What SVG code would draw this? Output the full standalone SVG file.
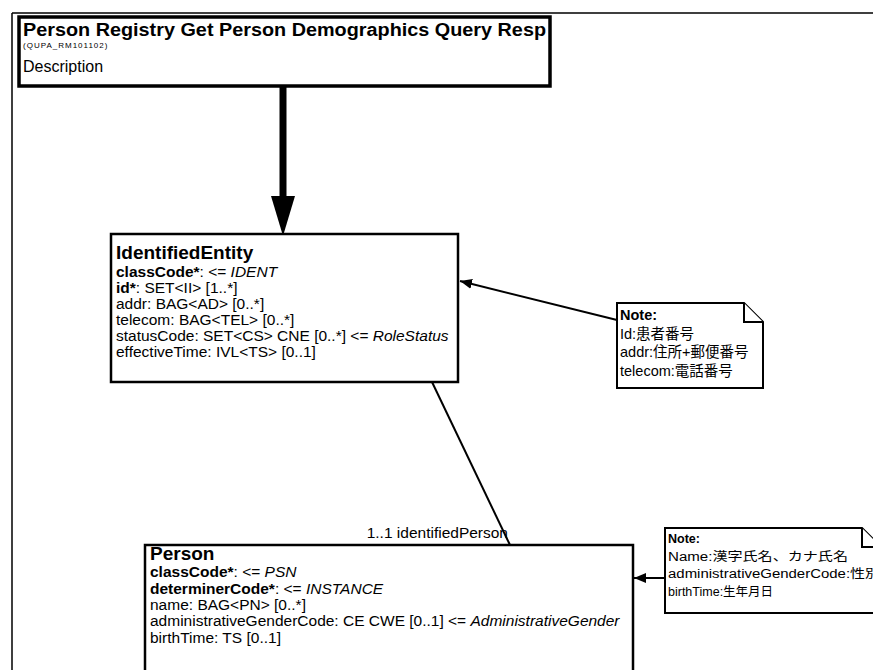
<svg xmlns="http://www.w3.org/2000/svg" width="873" height="670" viewBox="0 0 873 670">
<defs>
<style>
text{font-family:"Liberation Sans",Arial,"Noto Sans CJK JP",sans-serif;fill:#000}
.box{fill:#fff;stroke:#000;stroke-width:2.5}
.note{fill:#fff;stroke:#000;stroke-width:2}
.t{font-size:15.5px}
.b{font-weight:bold}
.i{font-style:italic}
.h{font-size:19px;font-weight:bold}
.n{font-size:14.5px}
.n2{font-size:12.5px}
.conn{stroke:#000;stroke-width:2;fill:none}
</style>
<marker id="ah" viewBox="0 0 12 10" refX="12" refY="5" markerWidth="12" markerHeight="10" markerUnits="userSpaceOnUse" orient="auto">
<path d="M0,0 L12,5 L0,10 Z" fill="#000"/>
</marker>
</defs>
<rect width="873" height="670" fill="#fff"/>
<g id="frame">
<path d="M12,13 H873 M12,13 V670" stroke="#000" stroke-width="1.5" fill="none"/>
</g>
<g id="connectors">
<line x1="283" y1="86" x2="283" y2="200" stroke="#000" stroke-width="7"/>
<polygon points="271,196 295,196 283,236" fill="#000"/>
<line class="conn" x1="617" y1="320" x2="460" y2="281" marker-end="url(#ah)"/>
<line class="conn" x1="432" y1="382" x2="510" y2="545"/>
<text class="t" x="508" y="538" text-anchor="end">1..1 identifiedPerson</text>
<line class="conn" x1="665" y1="578" x2="634" y2="578" marker-end="url(#ah)"/>
</g>
<g id="title">
<rect x="19" y="17" width="531" height="69" fill="#fff" stroke="#000" stroke-width="3.5"/>
<text x="23" y="36" font-size="18" font-weight="bold" textLength="523" lengthAdjust="spacingAndGlyphs">Person Registry Get Person Demographics Query Resp</text>
<text x="23" y="48" font-size="8" letter-spacing="1">(QUPA_RM101102)</text>
<text x="23" y="72" font-size="16">Description</text>
</g>
<g id="IdentifiedEntity">
<rect class="box" x="111" y="234" width="347" height="148"/>
<text class="h" x="116" y="259">IdentifiedEntity</text>
<text class="t" x="116" y="277"><tspan class="b">classCode*</tspan>: &lt;= <tspan class="i">IDENT</tspan></text>
<text class="t" x="116" y="293"><tspan class="b">id*</tspan>: SET&lt;II&gt; [1..*]</text>
<text class="t" x="116" y="309">addr: BAG&lt;AD&gt; [0..*]</text>
<text class="t" x="116" y="325">telecom: BAG&lt;TEL&gt; [0..*]</text>
<text class="t" x="116" y="341">statusCode: SET&lt;CS&gt; CNE [0..*] &lt;= <tspan class="i">RoleStatus</tspan></text>
<text class="t" x="116" y="357">effectiveTime: IVL&lt;TS&gt; [0..1]</text>
</g>
<g id="note1">
<path class="note" d="M617,303 H744 L763,322 V388 H617 Z"/>
<path class="note" d="M744,303 V322 H763" fill="none"/>
<text class="n b" x="620" y="320">Note:</text>
<text class="n" x="620" y="339">Id:患者番号</text>
<text class="n" x="620" y="357">addr:住所+郵便番号</text>
<text class="n" x="620" y="376">telecom:電話番号</text>
</g>
<g id="Person">
<rect class="box" x="145" y="545" width="488" height="140"/>
<text class="h" x="150" y="560">Person</text>
<text class="t" x="150" y="577"><tspan class="b">classCode*</tspan>: &lt;= <tspan class="i">PSN</tspan></text>
<text class="t" x="150" y="594"><tspan class="b">determinerCode*</tspan>: &lt;= <tspan class="i">INSTANCE</tspan></text>
<text class="t" x="150" y="610">name: BAG&lt;PN&gt; [0..*]</text>
<text class="t" x="150" y="626">administrativeGenderCode: CE CWE [0..1] &lt;= <tspan class="i">AdministrativeGender</tspan></text>
<text class="t" x="150" y="643">birthTime: TS [0..1]</text>
</g>
<g id="note2">
<path class="note" d="M665,528 H862 L881,547 V613 H665 Z"/>
<path class="note" d="M862,528 V547 H881" fill="none"/>
<text class="n2 b" x="668" y="543">Note:</text>
<text class="n2" x="668" y="561" textLength="180" lengthAdjust="spacingAndGlyphs">Name:漢字氏名、カナ氏名</text>
<text class="n2" x="668" y="578" textLength="212" lengthAdjust="spacingAndGlyphs">administrativeGenderCode:性別</text>
<text class="n2" x="668" y="596">birthTime:生年月日</text>
</g>
</svg>
